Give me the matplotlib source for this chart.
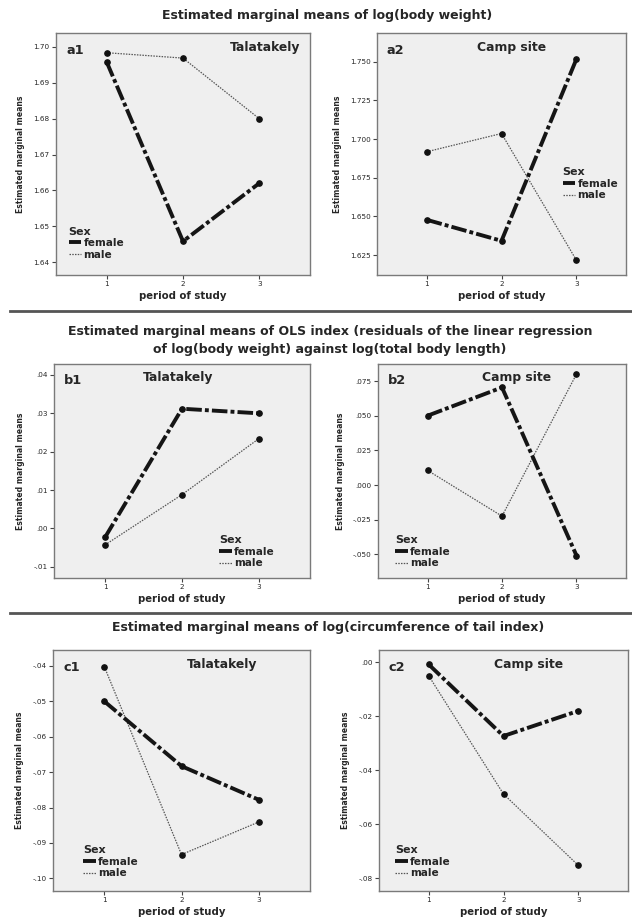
import matplotlib
matplotlib.use("Agg")
import matplotlib.pyplot as plt
from matplotlib.lines import Line2D

plt.rcParams['font.family'] = ['DejaVu Sans']

periods = [1, 2, 3]
period_ticklabels = ["1", "2", "3"]

# a: log(body weight)
a1_female = [1.6958, 1.6458, 1.6620]
a1_male = [1.6984, 1.6969, 1.6800]
a2_female = [1.6478, 1.6342, 1.7515]
a2_male = [1.6918, 1.7036, 1.6218]
# b: OLS index
b1_female = [-0.0023, 0.0312, 0.0300]
b1_male = [-0.0043, 0.0088, 0.0234]
b2_female = [0.0500, 0.0704, -0.0508]
b2_male = [0.0106, -0.0224, 0.0800]
# c: log(circumference of tail index)
c1_female = [-0.0500, -0.0683, -0.0778]
c1_male = [-0.0402, -0.0933, -0.0841]
c2_female = [-0.0008, -0.0273, -0.0180]
c2_male = [-0.0050, -0.0488, -0.0752]

a1_ticks = [1.64, 1.65, 1.66, 1.67, 1.68, 1.69, 1.70]
a1_ticklabels = ["1.64", "1.65", "1.66", "1.67", "1.68", "1.69", "1.70"]
a2_ticks = [1.625, 1.650, 1.675, 1.700, 1.725, 1.750]
a2_ticklabels = ["1.625", "1.650", "1.675", "1.700", "1.725", "1.750"]
b1_ticks = [-0.01, 0.00, 0.01, 0.02, 0.03, 0.04]
b1_ticklabels = ["-.01", ".00", ".01", ".02", ".03", ".04"]
b2_ticks = [-0.050, -0.025, 0.000, 0.025, 0.050, 0.075]
b2_ticklabels = ["-.050", "-.025", ".000", ".025", ".050", ".075"]
c1_ticks = [-0.10, -0.09, -0.08, -0.07, -0.06, -0.05, -0.04]
c1_ticklabels = ["-.10", "-.09", "-.08", "-.07", "-.06", "-.05", "-.04"]
c2_ticks = [-0.08, -0.06, -0.04, -0.02, 0.00]
c2_ticklabels = ["-.08", "-.06", "-.04", "-.02", ".00"]

sex_labels = ["female", "male"]
sites = ["Talatakely", "Camp site"]
panel_ids = ["a1", "a2", "b1", "b2", "c1", "c2"]
titles = ["Estimated marginal means of log(body weight)",
          "Estimated marginal means of OLS index (residuals of the linear regression\nof log(body weight) against log(total body length)",
          "Estimated marginal means of log(circumference of tail index)"]

W, H = 632, 924
fig = plt.figure(figsize=(W / 100, H / 100), dpi=100)


def rect(x0, x1, y0, y1):
    return [x0 / W, 1 - y1 / H, (x1 - x0) / W, (y1 - y0) / H]


TXT = "#262626"
female_style = dict(color="#151515", lw=2.8, linestyle=(0, (4, 0.8, 1, 0.8)))
male_style = dict(color="#555555", lw=0.9, linestyle=(0, (1.2, 1.0)))

panels = [
    dict(rect=rect(56, 310, 33, 275), f=a1_female, m=a1_male, ylim=(1.6364, 1.7039),
         ticks=a1_ticks, tl=a1_ticklabels, site=0, site_x=0.823, leg=(0.05, 0.20)),
    dict(rect=rect(377, 626, 33, 275), f=a2_female, m=a2_male, ylim=(1.6121, 1.7686),
         ticks=a2_ticks, tl=a2_ticklabels, site=1, site_x=0.542, leg=(0.745, 0.445)),
    dict(rect=rect(54, 310, 364, 578), f=b1_female, m=b1_male, ylim=(-0.01294, 0.04286),
         ticks=b1_ticks, tl=b1_ticklabels, site=0, site_x=0.486, leg=(0.645, 0.20)),
    dict(rect=rect(378, 626, 364, 578), f=b2_female, m=b2_male, ylim=(-0.067, 0.0873),
         ticks=b2_ticks, tl=b2_ticklabels, site=1, site_x=0.56, leg=(0.068, 0.20)),
    dict(rect=rect(53, 310, 650, 891), f=c1_female, m=c1_male, ylim=(-0.1036, -0.03548),
         ticks=c1_ticks, tl=c1_ticklabels, site=0, site_x=0.66, leg=(0.117, 0.19)),
    dict(rect=rect(379, 628, 650, 891), f=c2_female, m=c2_male, ylim=(-0.0847, 0.00456),
         ticks=c2_ticks, tl=c2_ticklabels, site=1, site_x=0.60, leg=(0.066, 0.19)),
]

for pid, p in zip(panel_ids, panels):
    ax = fig.add_axes(p["rect"])
    ax.set_facecolor("#efefef")
    for s in ax.spines.values():
        s.set_color("#7a7a7a")
        s.set_linewidth(1.0)
    ax.plot(periods, p["m"], **male_style, marker="o", markersize=3.8,
            markerfacecolor="#111111", markeredgecolor="#111111", zorder=3)
    ax.plot(periods, p["f"], **female_style, marker="o", markersize=3.8,
            markerfacecolor="#111111", markeredgecolor="#111111", zorder=4)
    ax.set_xlim(0.335, 3.665)
    ax.set_ylim(*p["ylim"])
    ax.set_xticks(periods)
    ax.set_xticklabels(period_ticklabels)
    ax.set_yticks(p["ticks"])
    ax.set_yticklabels(p["tl"])
    ax.tick_params(axis="both", labelsize=5.2, length=3, width=0.8, color="#444444",
                   labelcolor=TXT, pad=1.5)
    ax.set_xlabel("period of study", fontsize=7.3, fontweight="bold", color=TXT, labelpad=3)
    ax.set_ylabel("Estimated marginal means", fontsize=5.6, fontweight="bold",
                  color=TXT, labelpad=6)
    ax.text(0.04, 0.955, pid, transform=ax.transAxes, fontsize=9.3, fontweight="bold",
            color=TXT, ha="left", va="top")
    ax.text(p["site_x"], 0.965, sites[p["site"]], transform=ax.transAxes, fontsize=8.9,
            fontweight="bold", color=TXT, ha="center", va="top")
    handles = [Line2D([], [], **female_style), Line2D([], [], **male_style)]
    leg = ax.legend(handles, sex_labels, title="Sex", loc="upper left",
                    bbox_to_anchor=p["leg"], frameon=False, fontsize=7.6,
                    title_fontsize=8.0, handlelength=1.2, handletextpad=0.2,
                    labelspacing=0.15, borderpad=0, borderaxespad=0, alignment="left")
    for t in leg.get_texts():
        t.set_fontweight("bold")
        t.set_color(TXT)
    leg.get_title().set_fontweight("bold")
    leg.get_title().set_color(TXT)

fig.text(327 / W, 1 - 16 / H, titles[0], ha="center", va="center", fontsize=9.0,
         fontweight="bold", color=TXT)
fig.text(330 / W, 1 - 340 / H, titles[1], ha="center", va="center", fontsize=9.0,
         fontweight="bold", color=TXT, linespacing=1.5)
fig.text(328 / W, 1 - 628 / H, titles[2], ha="center", va="center", fontsize=9.0,
         fontweight="bold", color=TXT)

for ysep in (311, 613):
    fig.add_artist(Line2D([10 / W, 1.0], [1 - ysep / H, 1 - ysep / H],
                          transform=fig.transFigure, color="#555555", lw=2.0))

fig.savefig("out.png", dpi=100, facecolor="white")
